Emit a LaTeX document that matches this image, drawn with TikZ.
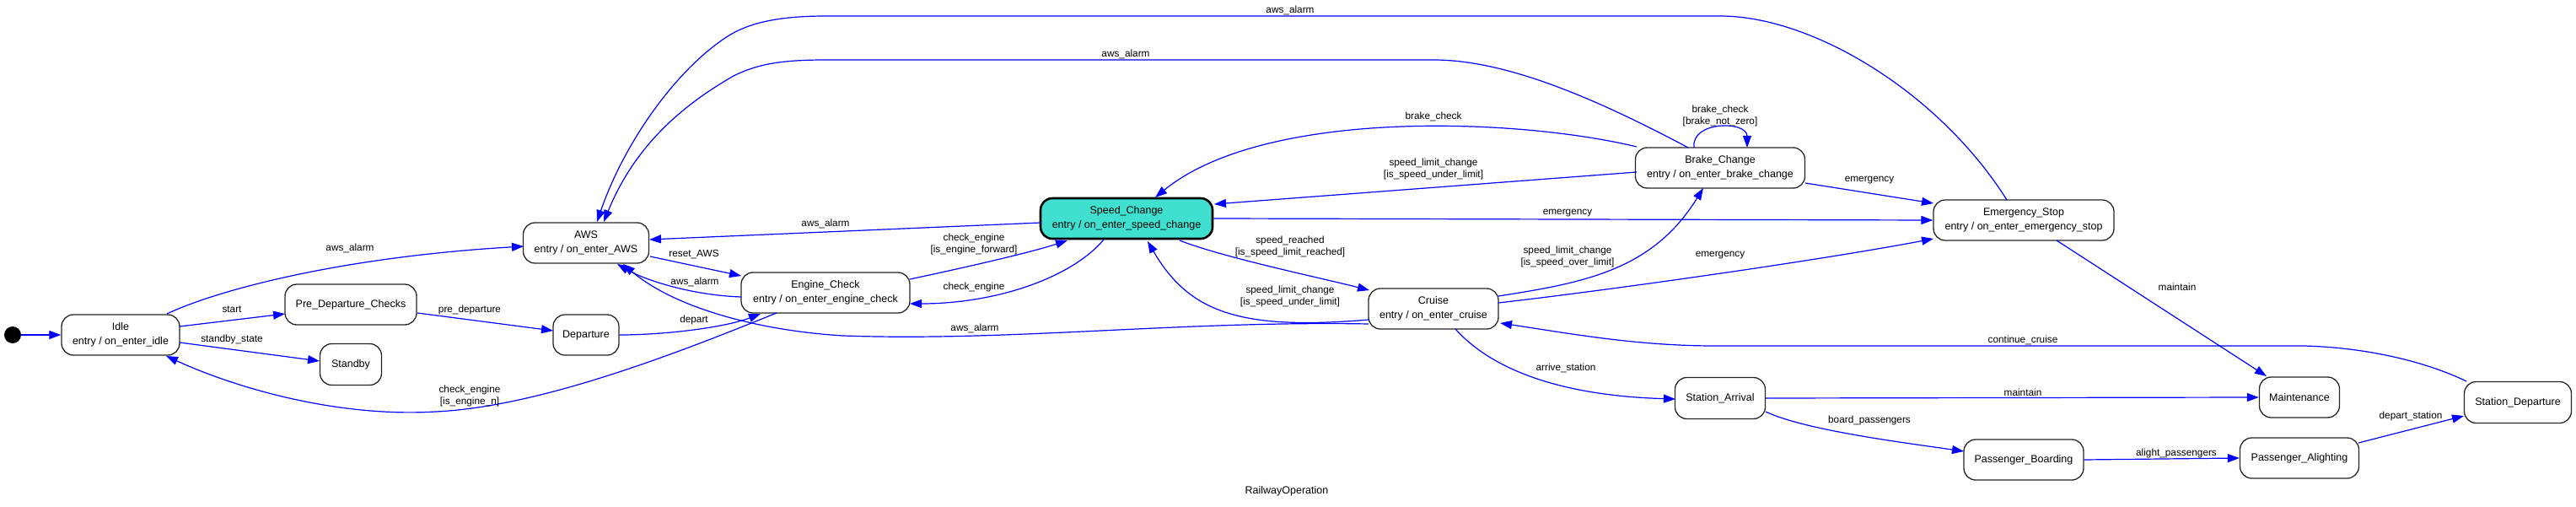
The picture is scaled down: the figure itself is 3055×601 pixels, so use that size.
\documentclass[tikz,border=0pt]{standalone}
\usepackage{fontspec}
\setmainfont{Liberation Sans}
\usetikzlibrary{arrows.meta,calc}
\definecolor{turq}{HTML}{40E0D0}
\newcommand\nodefnt{\fontsize{12.5}{16.5}\selectfont}
\newcommand\lblfnt{\fontsize{11.8}{14}\selectfont}
\tikzset{
  state/.style={draw=black!85, line width=1.3pt, rounded corners=14pt, minimum height=48pt, inner sep=0pt, align=center, font=\nodefnt},
  lbl/.style={font=\lblfnt, inner sep=0pt, align=center},
  tr/.style={draw=blue, line width=1.2pt, -{Triangle[length=14pt,width=10pt]}},
}
\begin{document}
\begin{tikzpicture}[x=1pt,y=-1pt]
\useasboundingbox[fill=white] (0,0) rectangle (3055,601);
% states
\node[circle, fill=black, minimum size=20pt, inner sep=0pt] (init) at (15,397) {};
\node[state, minimum width=140pt] (idle) at (143,397) {Idle\\entry / on\_enter\_idle};
\node[state, minimum width=156pt] (pre) at (416,361) {Pre\_Departure\_Checks};
\node[state, minimum width=73pt, minimum height=49pt] (standby) at (416,432) {Standby};
\node[state, minimum width=149pt] (aws) at (695,288) {AWS\\entry / on\_enter\_AWS};
\node[state, minimum width=78pt] (dep) at (695,397) {Departure};
\node[state, minimum width=200pt] (eng) at (979,347) {Engine\_Check\\entry / on\_enter\_engine\_check};
\node[state, minimum width=204pt, fill=turq, draw=black, line width=2.6pt] (spd) at (1336,259) {Speed\_Change\\entry / on\_enter\_speed\_change};
\node[state, minimum width=201pt] (brk) at (2040,199) {Brake\_Change\\entry / on\_enter\_brake\_change};
\node[state, minimum width=154pt] (cru) at (1700,366) {Cruise\\entry / on\_enter\_cruise};
\node[state, minimum width=214pt] (emg) at (2400,261) {Emergency\_Stop\\entry / on\_enter\_emergency\_stop};
\node[state, minimum width=107pt, minimum height=49pt] (sarr) at (2040,472) {Station\_Arrival};
\node[state, minimum width=95pt] (maint) at (2727,471) {Maintenance};
\node[state, minimum width=127pt, minimum height=49pt] (sdep) at (2986,477) {Station\_Departure};
\node[state, minimum width=142pt] (pboard) at (2400,545) {Passenger\_Boarding};
\node[state, minimum width=141pt] (palight) at (2727,543) {Passenger\_Alighting};
\node[lbl, font=\nodefnt] (title) at (1526,582) {RailwayOperation};
% transitions
\draw[tr] (init) -- (idle.west);
\draw[tr] ([shift={(55,-25)}]idle.center) .. controls (255,345) and (400,305) .. ([shift={(-74,4)}]aws.center);
\node[lbl] (l2) at (415,294) {aws\_alarm};
\draw[tr] ([shift={(70,-10)}]idle.center) -- ([shift={(-78,11)}]pre.center);
\node[lbl] (l3) at (275,367) {start};
\draw[tr] ([shift={(70,9)}]idle.center) -- ([shift={(-37,-4)}]standby.center);
\node[lbl] (l4) at (275,402) {standby\_state};
\draw[tr] ([shift={(-58,24)}]eng.center) .. controls (800,420) and (640,482) .. (517,488) .. controls (400,495) and (280,460) .. ([shift={(54,25)}]idle.center);
\node[lbl] (l5) at (557,469) {check\_engine\\{}[is\_engine\_n]};
\draw[tr] ([shift={(79,10)}]pre.center) -- ([shift={(-39,-5)}]dep.center);
\node[lbl] (l6) at (557,367) {pre\_departure};
\draw[tr] (dep.east) .. controls (790,397) and (860,388) .. ([shift={(-77,25)}]eng.center);
\node[lbl] (l7) at (823,379) {depart};
\draw[tr] ([shift={(76,16)}]aws.center) -- ([shift={(-100,-20)}]eng.center);
\node[lbl] (l8) at (823,302) {reset\_AWS};
\draw[tr] ([shift={(-100,5)}]eng.center) .. controls (820,350) and (765,332) .. ([shift={(37,25)}]aws.center);
\node[lbl] (l9) at (824,334) {aws\_alarm};
\draw[tr] ([shift={(-77,18)}]cru.center) .. controls (1400,380) and (1200,405) .. (1000,398) .. controls (900,392) and (800,365) .. ([shift={(44,25)}]aws.center);
\node[lbl] (l10) at (1156,389) {aws\_alarm};
\draw[tr] ([shift={(-102,5)}]spd.center) -- ([shift={(75,-4)}]aws.center);
\node[lbl] (l11) at (979,265) {aws\_alarm};
\draw[tr] ([shift={(-38,-24)}]brk.center) .. controls (1880,110) and (1780,71) .. (1700,71) -- (980,71) .. controls (930,71) and (900,75) .. (870,90) .. controls (800,130) and (750,180) .. ([shift={(21,-25)}]aws.center);
\node[lbl] (l12) at (1335,64) {aws\_alarm};
\draw[tr] ([shift={(-20,-24)}]emg.center) .. controls (2300,110) and (2150,19) .. (2040,19) -- (980,19) .. controls (920,19) and (885,28) .. (860,45) .. controls (800,85) and (740,170) .. ([shift={(13,-25)}]aws.center);
\node[lbl] (l13) at (1530,12) {aws\_alarm};
\draw[tr] ([shift={(100,-16)}]eng.center) .. controls (1140,318) and (1220,300) .. ([shift={(-70,26)}]spd.center);
\node[lbl] (l14) at (1155,289) {check\_engine\\{}[is\_engine\_forward]};
\draw[tr] ([shift={(-27,25)}]spd.center) .. controls (1270,330) and (1180,360) .. ([shift={(100,13)}]eng.center);
\node[lbl] (l15) at (1155,340) {check\_engine};
\draw[tr] ([shift={(63,26)}]spd.center) .. controls (1450,305) and (1560,328) .. ([shift={(-76,-22)}]cru.center);
\node[lbl] (l16) at (1530,292) {speed\_reached\\{}[is\_speed\_limit\_reached]};
\draw[tr] ([shift={(-77,13)}]cru.center) .. controls (1470,392) and (1410,370) .. ([shift={(25,27)}]spd.center);
\node[lbl] (l17) at (1530,351) {speed\_limit\_change\\{}[is\_speed\_under\_limit]};
\draw[tr] ([shift={(-99,-25)}]brk.center) .. controls (1800,140) and (1500,128) .. ([shift={(34,-25)}]spd.center);
\node[lbl] (l18) at (1700,138) {brake\_check};
\draw[tr] ([shift={(-99,5)}]brk.center) -- ([shift={(104,-17)}]spd.center);
\node[lbl] (l19) at (1700,200) {speed\_limit\_change\\{}[is\_speed\_under\_limit]};
\draw[tr] ([shift={(-31,-24)}]brk.center) .. controls (2005,143) and (2072,143) .. ([shift={(32,-24)}]brk.center);
\node[lbl] (l20) at (2040,137) {brake\_check\\{}[brake\_not\_zero]};
\draw[tr] (spd.east) -- (emg.west);
\node[lbl] (l21) at (1859,253) {emergency};
\draw[tr] ([shift={(101,18)}]brk.center) -- ([shift={(-107,-20)}]emg.center);
\node[lbl] (l22) at (2217,214) {emergency};
\draw[tr] ([shift={(77,-7)}]cru.center) .. controls (1900,345) and (2150,310) .. ([shift={(-107,22)}]emg.center);
\node[lbl] (l23) at (2040,303) {emergency};
\draw[tr] ([shift={(77,-15)}]cru.center) .. controls (1880,335) and (1960,320) .. ([shift={(-20,24)}]brk.center);
\node[lbl] (l24) at (1859,304) {speed\_limit\_change\\{}[is\_speed\_over\_limit]};
\draw[tr] ([shift={(39,24)}]emg.center) -- ([shift={(-39,-25)}]maint.center);
\node[lbl] (l25) at (2582,340) {maintain};
\draw[tr] ([shift={(26,24)}]cru.center) .. controls (1780,450) and (1880,470) .. ([shift={(-53,1)}]sarr.center);
\node[lbl] (l26) at (1857,436) {arrive\_station};
\draw[tr] (sarr.east) -- (maint.west);
\node[lbl] (l27) at (2399,465) {maintain};
\draw[tr] ([shift={(54,16)}]sarr.center) .. controls (2140,510) and (2260,525) .. ([shift={(-71,-10)}]pboard.center);
\node[lbl] (l28) at (2217,498) {board\_passengers};
\draw[tr] (pboard.east) -- (palight.west);
\node[lbl] (l29) at (2581,537) {alight\_passengers};
\draw[tr] ([shift={(70,-18)}]palight.center) -- ([shift={(-64,16)}]sdep.center);
\node[lbl] (l30) at (2859,493) {depart\_station};
\draw[tr] ([shift={(-61,-25)}]sdep.center) .. controls (2880,430) and (2810,412) .. (2732,410) -- (2033,410) .. controls (1940,410) and (1860,395) .. ([shift={(79,17)}]cru.center);
\node[lbl] (l31) at (2399,403) {continue\_cruise};
\end{tikzpicture}
\end{document}
